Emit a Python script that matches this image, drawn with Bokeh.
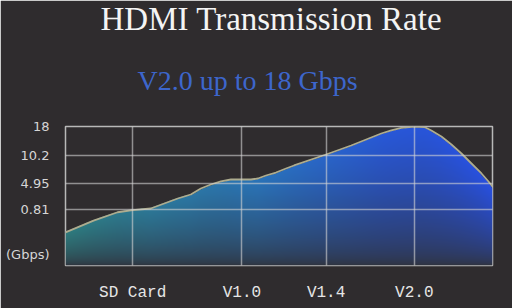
import numpy as np
from bokeh.plotting import figure
from bokeh.models import FixedTicker, Title, Range1d
from bokeh.embed import file_html
from bokeh.resources import INLINE

# ---- data ----
title_text = "HDMI Transmission Rate"
subtitle_text = "V2.0 up to 18 Gbps"
categories = ["SD Card", "V1.0", "V1.4", "V2.0"]
category_pos = [67, 176, 260, 348]          # position of each category along the x axis
x_extent = 426

y_tick_values = [0.81, 4.95, 10.2, 18]       # Gbps
y_tick_labels = ["0.81", "4.95", "10.2", "18"]
y_tick_levels = [56, 82, 110, 139]           # non-uniform axis position of each tick
unit_label = "(Gbps)"
unit_level = 11
y_extent = 139

curve_x = [0, 28, 52, 67, 85, 112, 125, 135, 145, 155, 165, 185, 192, 200, 210, 220, 228,
           260, 285, 315, 325, 335, 348, 358, 365, 375, 385, 395, 405, 415, 422, 426]
curve_gbps = [0.48, 0.65, 0.77, 0.80, 0.97, 2.56, 3.20, 4.15, 4.79, 5.33, 5.70, 5.70, 5.89, 6.45, 7.01, 7.76, 8.33,
              10.47, 12.89, 16.12, 16.93, 17.65, 18.0, 17.87, 16.93, 15.31, 13.16, 10.74, 8.70, 6.83, 5.33, 4.47]

# ---- scale: Gbps -> axis level (piecewise, as the axis is non-uniform) ----
anchor_gbps = [0.0] + y_tick_values
anchor_lvl = [0.0] + y_tick_levels
curve_lvl = np.interp(curve_gbps, anchor_gbps, anchor_lvl)

BG = "#2f2c2e"
p = figure(width=512, height=308, output_backend="svg", toolbar_location=None, title=None,
           x_range=Range1d(0, x_extent), y_range=Range1d(0, y_extent),
           min_border_left=65, min_border_right=20, min_border_top=126, min_border_bottom=43)
p.background_fill_color = BG
p.border_fill_color = BG
p.outline_line_color = "#b8b8b8"
p.outline_line_width = 1.5

# ---- gradient-filled area as an RGBA image masked by the curve ----
nx, ny = x_extent + 1, y_extent + 1
xs = np.linspace(0, x_extent, nx)
ys = np.linspace(0, y_extent, ny)
top_lvl = np.interp(xs, curve_x, curve_lvl)
t_stops = [0.0, 0.45, 0.75, 1.0]
top_r = np.interp(xs / x_extent, t_stops, [46, 42, 40, 40])
top_g = np.interp(xs / x_extent, t_stops, [124, 116, 88, 80])
top_b = np.interp(xs / x_extent, t_stops, [126, 185, 216, 224])
bot = np.array([48, 52, 62])
img = np.zeros((ny, nx), dtype=np.uint32)
view = img.view(dtype=np.uint8).reshape((ny, nx, 4))
Y, X = np.meshgrid(ys, np.arange(nx), indexing="ij")
f = np.clip(Y / top_lvl[None, :], 0, 1) ** 0.6
inside = Y <= top_lvl[None, :]
view[:, :, 0] = (bot[0] + (top_r[None, :] - bot[0]) * f).astype(np.uint8)
view[:, :, 1] = (bot[1] + (top_g[None, :] - bot[1]) * f).astype(np.uint8)
view[:, :, 2] = (bot[2] + (top_b[None, :] - bot[2]) * f).astype(np.uint8)
view[:, :, 3] = np.where(inside, 255, 0).astype(np.uint8)
p.image_rgba(image=[img], x=0, y=0, dw=x_extent, dh=y_extent)

p.line(curve_x, curve_lvl, line_color="#aeac8e", line_width=1.8, line_join="round")

# ---- grid ----
p.xgrid.ticker = FixedTicker(ticks=category_pos)
p.ygrid.ticker = FixedTicker(ticks=y_tick_levels)
for g in (p.xgrid, p.ygrid):
    g.grid_line_color = "#d4d4d4"
    g.grid_line_alpha = 0.6
    g.grid_line_width = 1.5
    g.level = "overlay"

# ---- axes ----
p.xaxis.ticker = FixedTicker(ticks=category_pos)
p.xaxis.major_label_overrides = {c: s for c, s in zip(category_pos, categories)}
p.xaxis.major_label_text_font = "Liberation Mono"
p.xaxis.major_label_text_font_size = "16px"
p.xaxis.major_label_text_color = "#e6e6e6"
p.xaxis.major_label_standoff = 12

p.yaxis.ticker = FixedTicker(ticks=[unit_level] + y_tick_levels)
p.yaxis.major_label_overrides = {unit_level: unit_label, **{l: s for l, s in zip(y_tick_levels, y_tick_labels)}}
p.yaxis.major_label_text_font = "DejaVu Sans"
p.yaxis.major_label_text_font_size = "13px"
p.yaxis.major_label_text_color = "#d6d6d6"
p.yaxis.major_label_standoff = 10

for ax in (p.xaxis, p.yaxis):
    ax.axis_line_color = None
    ax.major_tick_line_color = None
    ax.minor_tick_line_color = None

# ---- titles ----
p.add_layout(Title(text=subtitle_text, align="left", offset=72, standoff=62,
                   text_font="Liberation Serif", text_font_size="28px", text_font_style="normal",
                   text_color="#3d66cc"), "above")
p.add_layout(Title(text=title_text, align="left", offset=35, standoff=-10,
                   text_font="Liberation Serif", text_font_size="33px", text_font_style="normal",
                   text_color="#f4f4f4"), "above")

open("out.html", "w").write(file_html(p, INLINE))
